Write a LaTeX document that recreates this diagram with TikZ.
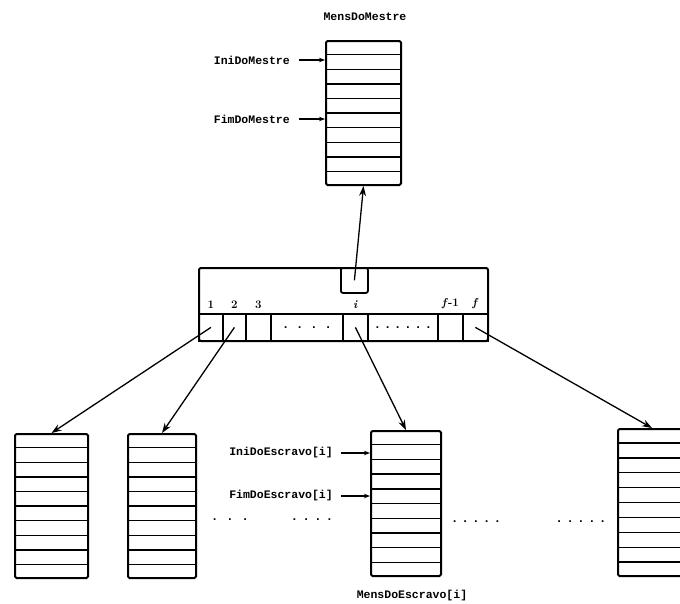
\documentclass[tikz,border=0pt]{standalone}
\usepackage{fontspec}
\usetikzlibrary{arrows.meta,calc}
\newfontfamily\lblfont{Liberation Mono}

% horizontal row separators inside a memory stack
\newcommand\rowlines[2]{%
  \foreach \k in {1,...,#2}{%
    \draw[rowline] ($(#1.north west)!{\k/(#2+1)}!(#1.south west)$) --
                   ($(#1.north east)!{\k/(#2+1)}!(#1.south east)$);
  }%
}
% a run of evenly spaced dots
\newcommand\dotrun[2]{\foreach \n in {1,...,#1}{.\ifnum\n<#1\hspace{#2}\fi}}

\begin{document}
\begin{tikzpicture}[x=1pt,y=-1pt,
  stack/.style={draw, line width=2pt, rounded corners=1.5pt, inner sep=0pt,
                anchor=north west},
  rowline/.style={line width=1.4pt},
  boxcell/.style={draw, line width=1.8pt, inner sep=0pt, anchor=north west,
                  minimum height=27pt},
  lbl/.style={font=\lblfont\bfseries\fontsize{11.5}{13}\selectfont, inner sep=1pt},
  num/.style={font=\bfseries\fontsize{11.5}{13}\selectfont, inner sep=1pt, above=3pt},
  dots/.style={font=\lblfont\bfseries\fontsize{12}{13}\selectfont, inner sep=0pt},
  arr/.style={line width=1.3pt, -{Stealth[length=10pt,width=7pt]}},
  smallarr/.style={line width=1.2pt, -{Stealth[length=6pt,width=4.5pt]}}
]
\useasboundingbox (0,0) rectangle (680,603);
\clip (0,0) rectangle (680,603);

% master message buffer
\node[stack, minimum width=75pt, minimum height=144pt] (mestre) at (325,40) {};
\rowlines{mestre}{9}
\node[lbl] (tMestre) at (365,17) {MensDoMestre};
\node[lbl, anchor=east] (lIniM) at (291,60) {IniDoMestre};
\node[lbl, anchor=east] (lFimM) at (291,119) {FimDoMestre};
\draw[smallarr] ([xshift=8pt]lIniM.east) -- (lIniM.east -| mestre.west);
\draw[smallarr] ([xshift=8pt]lFimM.east) -- (lFimM.east -| mestre.west);

% central table with one cell per slave
\node[draw, line width=2pt, rounded corners=2pt, inner sep=0pt, anchor=north west,
      minimum width=289pt, minimum height=73pt] (tabela) at (198,267) {};
\node[draw, line width=1.8pt, rounded corners=2pt, inner sep=0pt, anchor=north west,
      minimum width=27pt, minimum height=25pt] (slot) at (340,267) {};
\node[boxcell, minimum width=24pt] (c1) at (198,313) {};
\node[boxcell, minimum width=23pt] (c2) at (222,313) {};
\node[boxcell, minimum width=25pt] (c3) at (245,313) {};
\node[boxcell, minimum width=72pt] (cd1) at (270,313) {};
\node[boxcell, minimum width=25pt] (ci) at (342,313) {};
\node[boxcell, minimum width=70pt] (cd2) at (367,313) {};
\node[boxcell, minimum width=25pt] (cf1) at (437,313) {};
\node[boxcell, minimum width=25pt] (cf) at (462,313) {};
\node[dots] at (cd1.center) {\dotrun{4}{7pt}};
\node[dots] at (cd2.center) {\dotrun{6}{3pt}};
\node[num] at (c1.north) {1};
\node[num] at (c2.north) {2};
\node[num] at (c3.north) {3};
\node[num] at (ci.north) {\textit{i}};
\node[num] at (cf1.north) {\textit{f}-1};
\node[num] at (cf.north) {\textit{f}};

% slave message buffers
\node[stack, minimum width=73pt, minimum height=144pt] (bufA) at (14,433) {};
\rowlines{bufA}{9}
\node[stack, minimum width=68pt, minimum height=144pt] (bufB) at (127,433) {};
\rowlines{bufB}{9}
\node[stack, minimum width=70pt, minimum height=145pt] (bufC) at (370,430) {};
\rowlines{bufC}{9}
\node[stack, minimum width=80pt, minimum height=147pt] (bufD) at (617,428) {};
\rowlines{bufD}{9}
\coordinate (dTop) at (652,428);

\node[lbl, anchor=east] (lIniE) at (334,453) {IniDoEscravo[i]};
\node[lbl, anchor=east] (lFimE) at (334,496) {FimDoEscravo[i]};
\draw[smallarr] ([xshift=7pt]lIniE.east) -- (lIniE.east -| bufC.west);
\draw[smallarr] ([xshift=7pt]lFimE.east) -- (lFimE.east -| bufC.west);
\node[lbl] (tEscravo) at (412,596) {MensDoEscravo[i]};

\node[dots] at (230,520) {\dotrun{3}{8pt}};
\node[dots] at (312,520) {\dotrun{4}{4.5pt}};
\node[dots] at (476,522) {\dotrun{5}{3.5pt}};
\node[dots] at (581,522) {\dotrun{5}{3.7pt}};

% pointers
\draw[arr] (slot.center) -- (mestre.south);
\draw[arr] (c1.center) -- (bufA.north);
\draw[arr] (c2.center) -- (bufB.north);
\draw[arr] (ci.center) -- (bufC.north);
\draw[arr] (cf.center) -- (dTop);
\end{tikzpicture}
\end{document}
